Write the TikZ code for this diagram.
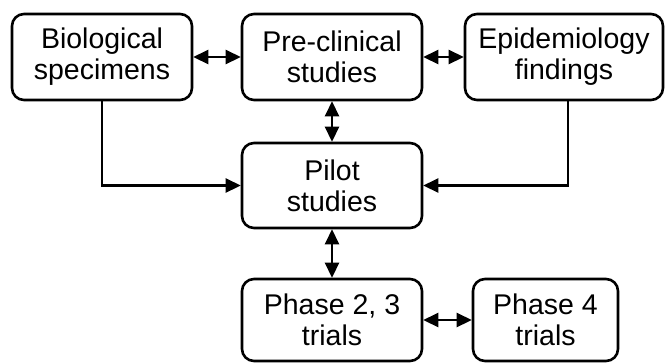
\documentclass[tikz,border=0pt]{standalone}
\usepackage{fontspec}
\setmainfont{Liberation Sans}
\usetikzlibrary{arrows.meta}
\begin{document}
\begin{tikzpicture}
  [x=1pt,y=-1pt,line width=2.6pt,
   every node/.style={draw,rounded corners=12pt,align=center,inner sep=0pt,
     font=\fontsize{28.5}{31}\selectfont},
   box/.style={minimum width=180pt,minimum height=86pt},
   link/.style={{Triangle[length=15pt,width=14pt]}-{Triangle[length=15pt,width=14pt]}},
   feed/.style={-{Triangle[length=15pt,width=14pt]}}]
  \useasboundingbox (0,0) rectangle (665,362);
  \node (bio)[box] at (102,57) {Biological\\specimens};
  \node (pre)[box] at (332,57) {Pre-clinical\\studies};
  \node (epi)[box,minimum width=198pt] at (564,57) {Epidemiology\\findings};
  \node (pilot)[box,minimum height=85pt] at (332,185.5) {Pilot\\studies};
  \node (ph23)[box,minimum height=82pt] at (332,320) {Phase 2, 3\\trials};
  \node (ph4)[box,minimum width=145pt,minimum height=82pt] at (545.5,320) {Phase 4\\trials};

  \foreach \from/\to in {bio/pre,pre/epi,pre/pilot,pilot/ph23,ph23/ph4}
    \draw[link] (\from) -- (\to);
  \draw[feed] (bio.south) |- (pilot.west);
  \draw[feed] ([xshift=4pt]epi.south) |- (pilot.east);
\end{tikzpicture}
\end{document}
